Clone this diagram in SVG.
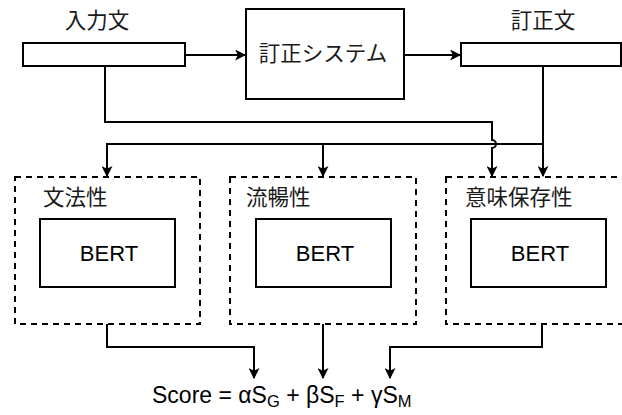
<svg xmlns="http://www.w3.org/2000/svg" width="622" height="415" viewBox="0 0 622 415">
<style>
.box{fill:#fff;stroke:#000;stroke-width:2}
.dash{fill:none;stroke:#000;stroke-width:2;stroke-dasharray:6 5}
.ln{fill:none;stroke:#000;stroke-width:2}
.jp{font-family:"Noto Sans CJK JP","Noto Sans",sans-serif;font-size:21.5px;fill:#1a1a1a}
.en{font-family:"Liberation Sans",Arial,sans-serif;font-size:22px;fill:#000}
.sc{font-family:"Liberation Sans",Arial,sans-serif;font-size:23px;fill:#000}
.sub{font-size:16.5px}
</style>
<defs>
<marker id="ah" viewBox="0 0 10 10" refX="9" refY="5" markerWidth="11" markerHeight="11" markerUnits="userSpaceOnUse" orient="auto">
<path d="M0,0 L10,5 L0,10 L2.5,5 Z" fill="#000"/>
</marker>
</defs>
<g id="input">
<text class="jp" x="97" y="28" text-anchor="middle">入力文</text>
<rect class="box" x="23" y="43" width="162" height="23"/>
</g>
<g id="system">
<rect class="box" x="246" y="9" width="158" height="90"/>
<text class="jp" x="323" y="61" text-anchor="middle">訂正システム</text>
</g>
<g id="output">
<text class="jp" x="543" y="28" text-anchor="middle">訂正文</text>
<rect class="box" x="461" y="43" width="160" height="23"/>
</g>
<g id="grammar">
<rect class="dash" x="15" y="177" width="185" height="147"/>
<text class="jp" x="43" y="205">文法性</text>
<rect class="box" x="40" y="219" width="135" height="68"/>
<text class="en" x="109" y="261" text-anchor="middle">BERT</text>
</g>
<g id="fluency">
<rect class="dash" x="230" y="177" width="186" height="147"/>
<text class="jp" x="246" y="205">流暢性</text>
<rect class="box" x="256" y="219" width="135" height="68"/>
<text class="en" x="325" y="261" text-anchor="middle">BERT</text>
</g>
<g id="meaning">
<rect class="dash" x="446" y="177" width="186" height="147"/>
<text class="jp" x="465" y="205">意味保存性</text>
<rect class="box" x="471" y="219" width="135" height="68"/>
<text class="en" x="540" y="261" text-anchor="middle">BERT</text>
</g>
<g id="score">
<text class="sc" x="152" y="403">Score = αS<tspan class="sub" dy="4">G</tspan><tspan dy="-4"> + βS</tspan><tspan class="sub" dy="4">F</tspan><tspan dy="-4"> + γS</tspan><tspan class="sub" dy="4">M</tspan></text>
</g>
<g id="connectors">
<path class="ln" d="M185,55 H245" marker-end="url(#ah)"/>
<path class="ln" d="M404,55 H460" marker-end="url(#ah)"/>
<path class="ln" d="M105,66 V122 H492 V140 A4,4 0 0 1 492,148 V176" marker-end="url(#ah)"/>
<path class="ln" d="M543,66 V176" marker-end="url(#ah)"/>
<path class="ln" d="M543,144 H107 V176" marker-end="url(#ah)"/>
<path class="ln" d="M323,144 V176" marker-end="url(#ah)"/>
<path class="ln" d="M107,324 V347 H254 V378" marker-end="url(#ah)"/>
<path class="ln" d="M323,324 V378" marker-end="url(#ah)"/>
<path class="ln" d="M542,324 V347 H390 V378" marker-end="url(#ah)"/>
</g>
</svg>
